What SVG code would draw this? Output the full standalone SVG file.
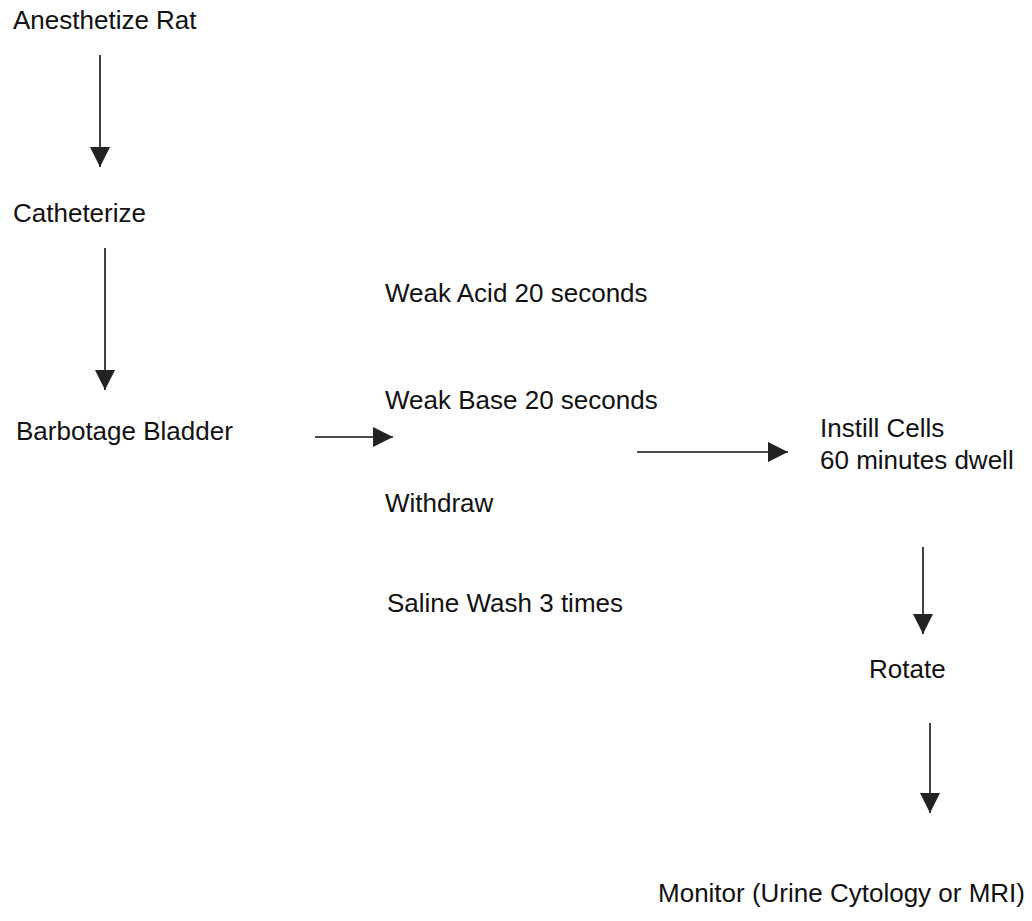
<svg xmlns="http://www.w3.org/2000/svg" width="1032" height="921" viewBox="0 0 1032 921">
  <style>
    .lbl { font-family: "Liberation Sans", Arial, sans-serif; font-size: 26px; fill: #111; }
    .conn { stroke: #111; stroke-width: 1.6; fill: none; marker-end: url(#arrow); }
  </style>
  <defs>
    <marker id="arrow" viewBox="0 0 20 20" refX="20" refY="10" markerWidth="20" markerHeight="20" markerUnits="userSpaceOnUse" orient="auto">
      <path d="M0,0 L20,10 L0,20 Z" fill="#222"/>
    </marker>
  </defs>
  <rect width="1032" height="921" fill="#fff"/>
  <g id="connectors">
    <line class="conn" x1="100" y1="55" x2="100" y2="167"/>
    <line class="conn" x1="105" y1="248" x2="105" y2="390"/>
    <line class="conn" x1="315" y1="437" x2="393" y2="437"/>
    <line class="conn" x1="637" y1="452" x2="788" y2="452"/>
    <line class="conn" x1="923" y1="547" x2="923" y2="634"/>
    <line class="conn" x1="930" y1="723" x2="930" y2="813"/>
  </g>
  <g id="anesthetize"><text class="lbl" x="13" y="29">Anesthetize Rat</text></g>
  <g id="catheterize"><text class="lbl" x="13" y="222">Catheterize</text></g>
  <g id="barbotage"><text class="lbl" x="16" y="440">Barbotage Bladder</text></g>
  <g id="treatment">
    <text class="lbl" x="385" y="302">Weak Acid 20 seconds</text>
    <text class="lbl" x="385" y="409">Weak Base 20 seconds</text>
    <text class="lbl" x="385" y="512">Withdraw</text>
    <text class="lbl" x="387" y="612">Saline Wash 3 times</text>
  </g>
  <g id="instill">
    <text class="lbl" x="820" y="437">Instill Cells</text>
    <text class="lbl" x="820" y="469">60 minutes dwell</text>
  </g>
  <g id="rotate"><text class="lbl" x="869" y="678">Rotate</text></g>
  <g id="monitor"><text class="lbl" x="1025" y="902" text-anchor="end">Monitor (Urine Cytology or MRI)</text></g>
</svg>
